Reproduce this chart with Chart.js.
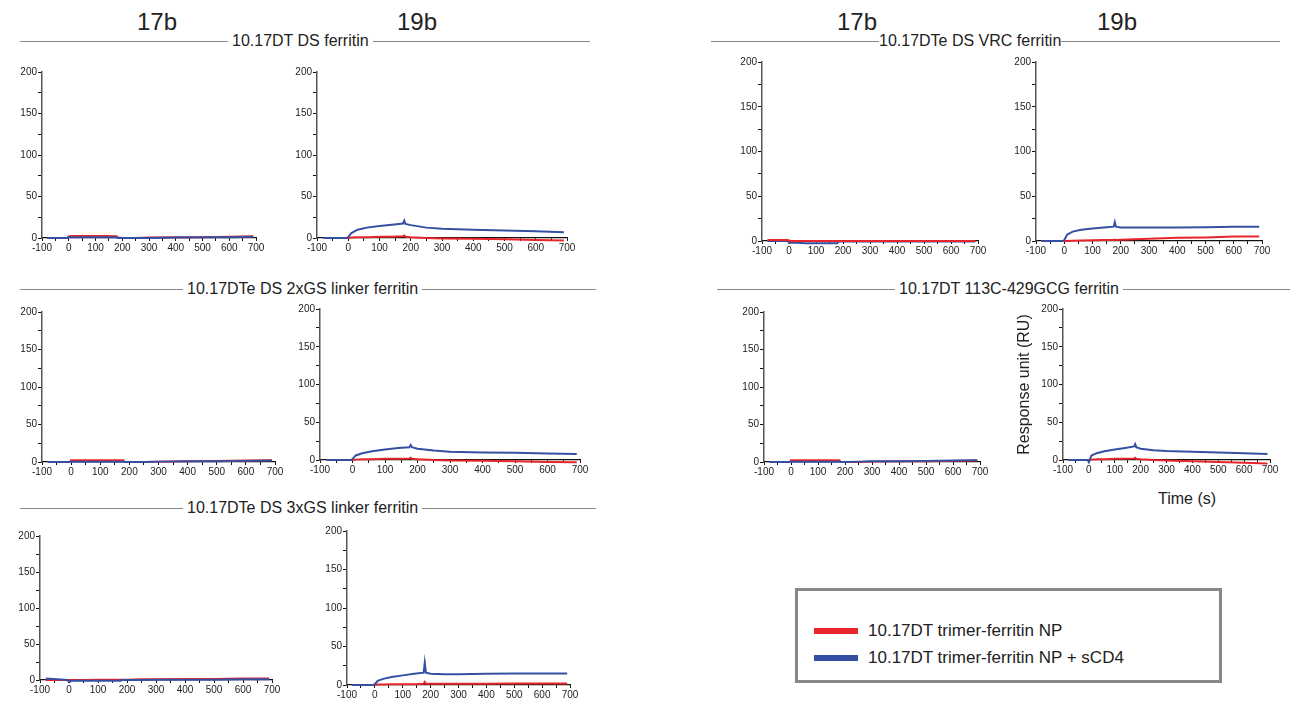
<!DOCTYPE html>
<html>
<head>
<meta charset="utf-8">
<script src="https://cdn.jsdelivr.net/npm/chart.js@4.4.1/dist/chart.umd.min.js"></script>
<style>
  body{margin:0;background:#fff;font-family:"Liberation Sans",Arial,sans-serif;}
  #page{position:relative;width:1307px;height:702px;overflow:hidden;}
  .box{position:absolute;}
  .ab{position:absolute;font-size:24px;color:#222;}
  .hdr{position:absolute;height:20px;display:flex;align-items:center;font-size:16px;color:#222;white-space:nowrap;}
  .hdr .ln{flex:1;height:0;border-top:1.5px solid #888;}
  .hdr span{padding:0 4px;}
  #legend{position:absolute;left:795px;top:588px;width:421px;height:89px;border:3px solid #888;}
  .li{position:absolute;left:16px;font-size:17px;color:#222;display:flex;align-items:center;}
  .li i{display:inline-block;width:44px;height:6px;margin-right:10px;}
  .ttl{position:absolute;font-size:16px;color:#222;white-space:nowrap;}
</style>
</head>
<body>
<div id="page">
  <div class="ab" style="left:137px;top:8px">17b</div>
  <div class="ab" style="left:397px;top:8px">19b</div>
  <div class="ab" style="left:837px;top:8px">17b</div>
  <div class="ab" style="left:1097px;top:8px">19b</div>

  <div class="hdr" style="left:20px;top:31px;width:570px"><div class="ln" style="flex:none;width:208px"></div><span>10.17DT DS ferritin</span><div class="ln"></div></div>
  <div class="hdr" style="left:711px;top:31px;width:569px"><div class="ln" style="flex:none;width:168px"></div><span style="padding:0">10.17DTe DS VRC ferritin</span><div class="ln"></div></div>
  <div class="hdr" style="left:20px;top:279px;width:576px"><div class="ln" style="flex:none;width:163px"></div><span>10.17DTe DS 2xGS linker ferritin</span><div class="ln"></div></div>
  <div class="hdr" style="left:717px;top:279px;width:573px"><div class="ln" style="flex:none;width:178px"></div><span>10.17DT 113C-429GCG ferritin</span><div class="ln"></div></div>
  <div class="hdr" style="left:20px;top:498px;width:576px"><div class="ln" style="flex:none;width:163px"></div><span>10.17DTe DS 3xGS linker ferritin</span><div class="ln"></div></div>

  <div class="ttl" style="left:1158px;top:490px">Time (s)</div>

  <div id="legend">
    <div class="li" style="top:30px"><i style="background:#e8252b"></i>10.17DT trimer-ferritin NP</div>
    <div class="li" style="top:57px"><i style="background:#3450a2"></i>10.17DT trimer-ferritin NP + sCD4</div>
  </div>
</div>
<script>
// time (s) shared by every sensorgram
const time = [-80, -5, 0, 10, 30, 60, 100, 140, 175, 179, 183, 200, 250, 300, 400, 500, 600, 690];

// 10.17DT DS ferritin
const dsFer17bRed  = [0, 0, 2, 2.5, 2.5, 2.5, 2.5, 2.5, 2, 2, 0.5, 0, 0, 0.5, 1, 1, 1.5, 2];
const dsFer17bBlue = [0, 0, 1, 1, 1, 1, 1, 1, 1, 1, 0, 0, 0, 0, 0.5, 1, 1, 1.5];
const dsFer19bRed  = [0, 0, 0, 0.5, 1, 1, 1.5, 1.5, 2, 3, 1.5, 1, 0, -0.5, -1, -1.5, -2.5, -3];
const dsFer19bBlue = [0, 0, 1, 6, 10, 12.5, 14.5, 16, 17.5, 21, 17, 15.5, 12.5, 11, 10, 9, 8, 7];
// 10.17DTe DS VRC ferritin
const vrc17bRed  = [1, 1, 0.5, 0, 0, 0, 0, 0, 0, 0, 0, 0, 0, 0, 0, 0, 0, 0];
const vrc17bBlue = [0, 0, -2, -2, -2, -2.5, -2.5, -2.5, -2.5, -2.5, -0.5, -0.5, -0.5, -0.5, -0.5, -0.5, -0.5, -0.5];
const vrc19bRed  = [0, 0, 0, 0, 0.3, 0.5, 0.8, 1, 1, 1.5, 1, 1.5, 2, 2.5, 3.5, 4, 5, 5];
const vrc19bBlue = [0, 0, 1, 7, 10.5, 12.5, 14, 15, 16, 21, 16, 15, 15, 15, 15, 15.5, 16, 16];
// 10.17DTe DS 2xGS linker ferritin
const gs2_17bRed  = [0, 0, 2.5, 2.5, 2.5, 2.5, 2.5, 2.5, 2.5, 2.5, 0.5, 0, 0, 0.5, 1, 1.5, 2, 2.5];
const gs2_17bBlue = [0, 0, 0.5, 0.5, 0.5, 0.5, 0.5, 0.5, 0.5, 0.5, 0, 0, 0, 0.5, 1, 1, 1.5, 2];
const gs2_19bRed  = [0, 0, 0, 0.5, 1, 1, 1.5, 1.5, 2, 3, 1.5, 1, 0, -0.5, -1, -1.5, -2.5, -3];
const gs2_19bBlue = [0, 0, 1, 6, 9, 11.5, 14, 16, 17, 20, 17, 15, 12.5, 11, 10, 9.5, 8.5, 8];
// 10.17DT 113C-429GCG ferritin
const c113_17bRed  = [0, 0, 2.5, 2.5, 2.5, 2.5, 2.5, 2.5, 2.5, 2.5, 0.5, 0, 0, 0.5, 1, 1, 1.5, 2];
const c113_17bBlue = [0, 0, 0.5, 0.5, 0.5, 0.5, 0.5, 0.5, 0.5, 0.5, 0, 0, 0.5, 1, 1, 1.5, 2, 2.5];
const c113_19bRed  = [0, 0, 0, 0.5, 1, 1, 1.5, 1.5, 2, 3, 1.5, 1, 0, -0.5, -1.5, -2.5, -3.5, -4.5];
const c113_19bBlue = [0, 0, -3, 6, 9, 11.5, 14, 16, 18, 21, 17, 15, 13, 12, 11, 10, 9, 8];
// 10.17DTe DS 3xGS linker ferritin
const gs3_17bRed  = [0, 0, 0, 0, 0, 0, 0.3, 0.5, 0.5, 0.5, 0.5, 0.5, 1, 1, 1.5, 1.5, 2, 2];
const gs3_17bBlue = [2, 0, -3, -1, -1, -1, -1, -1, -1, -1, 0, 0, 0, 0.5, 0.5, 0.5, 1, 1];
const gs3_19bRed  = [0, 0, 0, 0.5, 0.5, 1, 1, 1, 1.5, 4, 1.5, 1.5, 1.5, 1.5, 1.5, 2, 2, 2];
const gs3_19bBlue = [0, 0, 1, 5.5, 8, 10.5, 12.5, 14.5, 16, 29, 16, 14.5, 14, 14, 14.5, 15, 15, 15];

const xTicks = [-100, 0, 100, 200, 300, 400, 500, 600, 700];
const yTicks = [0, 50, 100, 150, 200];

const RED = '#e8252b', BLUE = '#3450a2';

// panel: axis x, end x, y of 200, y of 0, data, red on top?
const panels = [
  {ax:42,  xe:256,  yt:72,  y0:238, red:dsFer17bRed, blue:dsFer17bBlue},
  {ax:317, xe:567,  yt:72,  y0:238, red:dsFer19bRed, blue:dsFer19bBlue},
  {ax:762, xe:978,  yt:62,  y0:241, red:vrc17bRed, blue:vrc17bBlue, redTop:true},
  {ax:1036,xe:1262, yt:62,  y0:241, red:vrc19bRed, blue:vrc19bBlue},
  {ax:42,  xe:275,  yt:312, y0:462, red:gs2_17bRed, blue:gs2_17bBlue},
  {ax:320, xe:580,  yt:309, y0:460, red:gs2_19bRed, blue:gs2_19bBlue},
  {ax:764, xe:980,  yt:312, y0:462, red:c113_17bRed, blue:c113_17bBlue},
  {ax:1063,xe:1270, yt:309, y0:460, red:c113_19bRed, blue:c113_19bBlue, titles:true},
  {ax:40,  xe:272,  yt:536, y0:680, red:gs3_17bRed, blue:gs3_17bBlue},
  {ax:347, xe:570,  yt:531, y0:685, red:gs3_19bRed, blue:gs3_19bBlue}
];

const page = document.getElementById('page');
panels.forEach(p => {
  const yW = p.titles ? 48 : 30;
  const xH = 18;
  const padL = 2, padT = 8, padR = 12;
  const div = document.createElement('div');
  div.className = 'box';
  div.style.left = (p.ax - yW - padL) + 'px';
  div.style.top = (p.yt - padT) + 'px';
  div.style.width = (p.xe - p.ax + yW + padL + padR) + 'px';
  div.style.height = (p.y0 - p.yt + padT + xH) + 'px';
  const cv = document.createElement('canvas');
  div.appendChild(cv);
  page.appendChild(div);

  const pts = arr => time.map((t, i) => ({x: t, y: arr[i]}));
  const red = {data: pts(p.red), borderColor: RED, borderWidth: 2, pointRadius: 0, clip: false};
  const blue = {data: pts(p.blue), borderColor: BLUE, borderWidth: 2, pointRadius: 0, clip: false};

  new Chart(cv, {
    type: 'line',
    data: {datasets: p.redTop ? [red, blue] : [blue, red]},
    options: {
      responsive: true, maintainAspectRatio: false, animation: false,
      layout: {padding: {left: padL, top: padT, right: padR, bottom: 0}},
      plugins: {legend: {display: false}, tooltip: {enabled: false}},
      scales: {
        x: {
          type: 'linear', min: -100, max: 700,
          afterFit: s => { s.height = xH; },
          afterBuildTicks: s => { s.ticks = [-100,-50,0,50,100,150,200,250,300,350,400,450,500,550,600,650,700].map(v => ({value: v})); },
          border: {color: '#111', width: 1.2},
          grid: {drawOnChartArea: false, tickLength: 3, color: '#111'},
          ticks: {color: '#222', font: {size: 10, family: 'Liberation Sans'}, padding: 1, maxRotation: 0, autoSkip: false,
                  callback: v => xTicks.includes(v) ? v : ''}
        },
        y: {
          min: 0, max: 200,
          afterFit: s => { s.width = yW; },
          afterBuildTicks: s => { s.ticks = [0,25,50,75,100,125,150,175,200].map(v => ({value: v})); },
          border: {color: '#555', width: 1.5},
          grid: {drawOnChartArea: false, tickLength: 4, color: '#111'},
          ticks: {color: '#222', font: {size: 10, family: 'Liberation Sans'}, padding: 1,
                  callback: v => yTicks.includes(v) ? v : ''},
          title: {display: !!p.titles, text: 'Response unit (RU)', color: '#222', font: {size: 16, family: 'Liberation Sans'}, padding: 0}
        }
      }
    }
  });
});
</script>
</body>
</html>
